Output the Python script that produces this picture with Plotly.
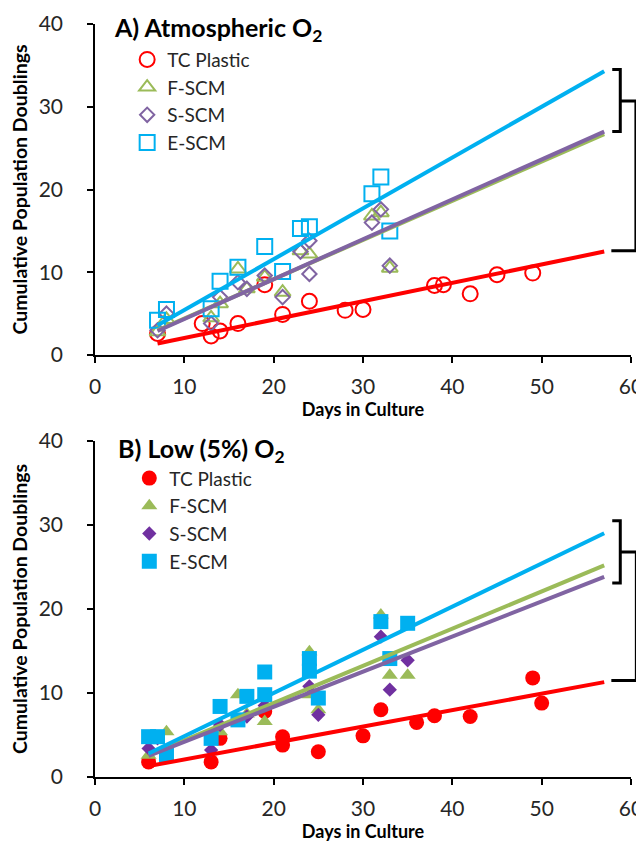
import plotly.graph_objects as go

# ---------------- data ----------------
series_names = ["TC Plastic", "F-SCM", "S-SCM", "E-SCM"]

# Panel A: atmospheric O2
a_tc_days = [7, 12, 13, 14, 16, 19, 21, 24, 28, 30, 38, 39, 42, 45, 49]
a_tc_pd = [2.6, 3.8, 2.3, 2.9, 3.8, 8.5, 4.9, 6.5, 5.4, 5.5, 8.4, 8.5, 7.4, 9.7, 9.9]
a_f_days = [7, 8, 13, 14, 16, 17, 19, 21, 23, 24, 31, 32, 33]
a_f_pd = [2.8, 4.3, 4.5, 6.2, 10.4, 8.0, 9.4, 7.6, 12.6, 12.2, 16.8, 17.2, 10.5]
a_s_days = [7, 8, 13, 14, 16, 17, 19, 21, 23, 24, 24, 31, 32, 33]
a_s_pd = [3.0, 5.0, 3.8, 7.0, 8.8, 8.0, 9.6, 7.0, 12.5, 13.8, 9.8, 16.0, 17.6, 10.8]
a_e_days = [7, 8, 13, 14, 16, 19, 21, 23, 24, 31, 32, 33]
a_e_pd = [4.2, 5.5, 5.6, 8.9, 10.6, 13.1, 10.1, 15.3, 15.5, 19.5, 21.5, 15.0]

# Panel B: low (5%) O2
b_tc_days = [6, 13, 14, 19, 21, 21, 25, 30, 32, 36, 38, 42, 49, 50]
b_tc_pd = [1.8, 1.8, 4.6, 7.8, 4.8, 3.8, 3.0, 4.9, 8.0, 6.5, 7.3, 7.2, 11.8, 8.8]
b_f_days = [6, 8, 14, 16, 17, 19, 24, 24, 25, 32, 33, 35]
b_f_pd = [2.6, 5.4, 5.4, 9.8, 7.5, 6.6, 14.9, 9.8, 8.0, 19.3, 12.1, 12.1]
b_s_days = [6, 7, 13, 14, 17, 19, 24, 25, 32, 33, 35]
b_s_pd = [3.4, 4.6, 3.2, 6.2, 7.2, 8.5, 10.8, 7.4, 16.7, 10.4, 13.9]
b_e_days = [6, 7, 8, 13, 14, 16, 17, 19, 19, 24, 24, 25, 32, 33, 35]
b_e_pd = [4.8, 4.8, 2.6, 4.6, 8.4, 6.8, 9.6, 9.8, 12.5, 14.1, 12.6, 9.4, 18.5, 14.1, 18.3]

# Linear trend lines (slope, intercept), forecast to day 57
trend_end_day = 57
a_trend_slope = [0.222, 0.474, 0.482, 0.614]
a_trend_icpt = [-0.154, -0.32, -0.474, -0.698]
b_trend_slope = [0.196, 0.443, 0.418, 0.514]
b_trend_icpt = [0.124, -0.06, 0.0, -0.28]

# Significance brackets (population doublings): small top, small bottom, middle, big bottom
a_bracket = [34.5, 27.0, 30.7, 12.6]
b_bracket = [30.5, 23.1, 26.8, 11.5]

x_ticks = [0, 10, 20, 30, 40, 50, 60]
y_ticks = [0, 10, 20, 30, 40]

# ---------------- styling ----------------
FONT = "Lato"
red, green, purple, blue = "#FF0000", "#9BBB59", "#8064A2", "#00B0F0"
marker_colors_a = [red, green, purple, blue]
marker_colors_b = [red, green, "#7030A0", blue]
line_colors = [red, green, purple, blue]
symbols_a = ["circle-open", "triangle-up-open", "diamond-open", "square-open"]
symbols_b = ["circle", "triangle-up", "diamond", "square"]
sizes = [15, 14, 11, 15]

fig = go.Figure()

a_days = [a_tc_days, a_f_days, a_s_days, a_e_days]
a_pd = [a_tc_pd, a_f_pd, a_s_pd, a_e_pd]
b_days = [b_tc_days, b_f_days, b_s_days, b_e_days]
b_pd = [b_tc_pd, b_f_pd, b_s_pd, b_e_pd]

for i, name in enumerate(series_names):
    fig.add_trace(go.Scatter(
        x=a_days[i], y=a_pd[i], mode="markers", name=name,
        marker=dict(symbol=symbols_a[i], size=sizes[i], color=marker_colors_a[i],
                    line=dict(width=2, color=marker_colors_a[i])),
        xaxis="x", yaxis="y", legend="legend", legendgroup="a" + str(i),
    ))
for i, name in enumerate(series_names):
    fig.add_trace(go.Scatter(
        x=b_days[i], y=b_pd[i], mode="markers", name=name,
        marker=dict(symbol=symbols_b[i], size=sizes[i], color=marker_colors_b[i]),
        xaxis="x2", yaxis="y2", legend="legend2", legendgroup="b" + str(i),
    ))

# trend lines
for i in range(4):
    xs = [min(a_days[i]), trend_end_day]
    fig.add_trace(go.Scatter(
        x=xs, y=[a_trend_slope[i] * x + a_trend_icpt[i] for x in xs], mode="lines",
        line=dict(color=line_colors[i], width=4), showlegend=False, hoverinfo="skip",
        xaxis="x", yaxis="y"))
for i in range(4):
    xs = [min(b_days[i]), trend_end_day]
    fig.add_trace(go.Scatter(
        x=xs, y=[b_trend_slope[i] * x + b_trend_icpt[i] for x in xs], mode="lines",
        line=dict(color=line_colors[i], width=4), showlegend=False, hoverinfo="skip",
        xaxis="x2", yaxis="y2"))

X_MAX = 60.0
def bracket_shapes(br, yref, xbig):
    top, bot, mid, low = br
    xs0, xs1 = 57.9 / X_MAX, 58.8 / X_MAX
    xb = xbig / X_MAX
    ln = dict(color="black", width=3)
    return [
        dict(type="path", xref="paper", yref=yref, line=ln,
             path=f"M {xs0} {top} L {xs1} {top} L {xs1} {bot} L {xs0} {bot}"),
        dict(type="path", xref="paper", yref=yref, line=ln,
             path=f"M {xs1} {mid} L {xb} {mid} L {xb} {low} L {57.8 / X_MAX} {low}"),
    ]

shapes = bracket_shapes(a_bracket, "y", 60.55) + bracket_shapes(b_bracket, "y2", 60.6)

axis_common = dict(
    showline=True, linecolor="black", linewidth=1.5, ticks="outside", ticklen=6,
    tickwidth=1.5, tickcolor="black", showgrid=False, zeroline=False, automargin=False,
    tickfont=dict(family=FONT, size=21, color="#262626"),
)
xaxis_extra = dict(ticklabelstandoff=6)
yaxis_extra = dict(ticklabelstandoff=20)
title_font = dict(family=FONT, size=18, color="black")
ytitle_font = dict(family=FONT, size=19.5, color="black")

annotations = [
    dict(text="<b>A) Atmospheric O<sub>2</sub></b>", xref="x domain", yref="y domain",
         x=0.032, y=0.985, xanchor="left", yanchor="middle", showarrow=False,
         font=dict(family=FONT, size=25, color="black")),
    dict(text="<b>B) Low (5%) O<sub>2</sub></b>", xref="x2 domain", yref="y2 domain",
         x=0.039, y=0.972, xanchor="left", yanchor="middle", showarrow=False,
         font=dict(family=FONT, size=25, color="black")),
    dict(text="*", xref="paper", yref="y", x=1.012, y=(a_bracket[2] + a_bracket[3]) / 2 - 1.2,
         xanchor="left", yanchor="middle", showarrow=False,
         font=dict(family=FONT, size=20, color="black")),
    dict(text="*", xref="paper", yref="y2", x=1.014, y=(b_bracket[2] + b_bracket[3]) / 2,
         xanchor="left", yanchor="middle", showarrow=False,
         font=dict(family=FONT, size=20, color="black")),
]

legend_common = dict(
    font=dict(family=FONT, size=19, color="#262626"), bgcolor="rgba(0,0,0,0)",
    xanchor="left", yanchor="top", tracegroupgap=0, itemwidth=30,
)

fig.update_layout(
    width=644, height=844,
    margin=dict(l=87, r=21, t=16, b=75),
    paper_bgcolor="white", plot_bgcolor="white",
    font=dict(family=FONT, color="black"),
    xaxis=dict(axis_common, **xaxis_extra, range=[0, 60], tickvals=x_ticks, anchor="y",
               title=dict(text="<b>Days in Culture</b>", font=title_font, standoff=2)),
    yaxis=dict(axis_common, **yaxis_extra, range=[0, 40], tickvals=y_ticks, domain=[0.5604, 1.0], anchor="x",
               title=dict(text="<b>Cumulative Population Doublings</b>", font=ytitle_font, standoff=13)),
    xaxis2=dict(axis_common, **xaxis_extra, range=[0, 60], tickvals=x_ticks, anchor="y2",
                title=dict(text="<b>Days in Culture</b>", font=title_font, standoff=2)),
    yaxis2=dict(axis_common, **yaxis_extra, range=[0, 40], tickvals=y_ticks, domain=[0.0, 0.4462], anchor="x2",
                title=dict(text="<b>Cumulative Population Doublings</b>", font=ytitle_font, standoff=13)),
    legend=dict(legend_common, x=0.06, y=0.978),
    legend2=dict(legend_common, x=0.064, y=0.422),
    shapes=shapes, annotations=annotations, showlegend=True,
)

fig.write_html("out.html")
